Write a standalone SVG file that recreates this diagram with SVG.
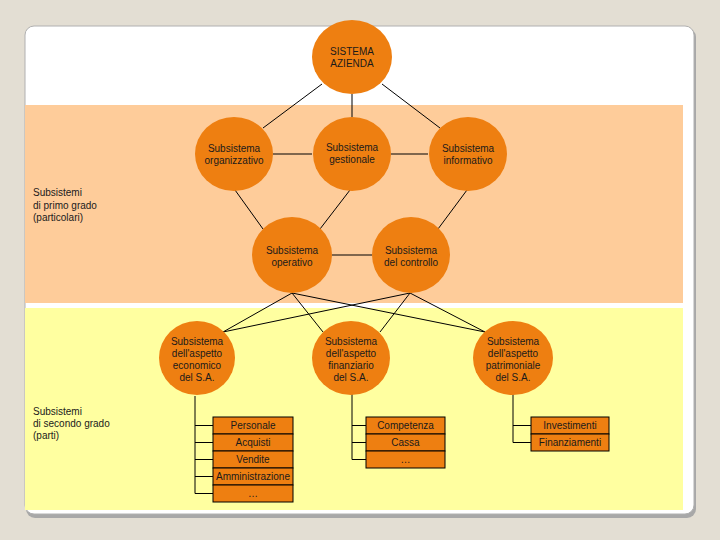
<svg xmlns="http://www.w3.org/2000/svg" width="720" height="540" viewBox="0 0 720 540">
<style>
.n{fill:#EE7F11}
.t{font-family:"Liberation Sans",Arial,sans-serif;font-size:10px;fill:#1a1a1a;text-anchor:middle}
.l{font-family:"Liberation Sans",Arial,sans-serif;font-size:10px;fill:#1a1a1a}
.c line,.c path{stroke:#000;stroke-width:1;fill:none}
.b{fill:#EE7F11;stroke:#000;stroke-width:1}
</style>
<rect width="720" height="540" fill="#E3DED3"/>
<rect x="26" y="28" width="670" height="490" rx="9" fill="#A8A8A8"/>
<rect x="25" y="26" width="669" height="488" rx="9" fill="#fff" stroke="#B0B0B0"/>
<rect x="25" y="105" width="658" height="198" fill="#FECC9A"/>
<rect x="25" y="308" width="658" height="202" fill="#FFFFA0"/>
<g class="c">
<line x1="322" y1="84" x2="263" y2="128"/>
<line x1="352" y1="94" x2="352" y2="117"/>
<line x1="382" y1="84" x2="440" y2="128"/>
<line x1="273" y1="154" x2="312" y2="154"/>
<line x1="391" y1="154" x2="428" y2="154"/>
<line x1="235" y1="190" x2="263" y2="229"/>
<line x1="350" y1="190" x2="320" y2="229"/>
<line x1="467" y1="190" x2="438" y2="229"/>
<line x1="332" y1="255" x2="372" y2="255"/>
<line x1="292" y1="293" x2="223" y2="332"/>
<line x1="292" y1="293" x2="323" y2="332"/>
<line x1="292" y1="293" x2="485" y2="332"/>
<line x1="410" y1="293" x2="223" y2="332"/>
<line x1="410" y1="293" x2="380" y2="332"/>
<line x1="410" y1="293" x2="485" y2="332"/>
<path d="M195 396V493.5M195 425.5H213M195 442.5H213M195 459.5H213M195 476.5H213M195 493.5H213"/>
<path d="M352 390V459.5M352 425.5H366M352 442.5H366M352 459.5H366"/>
<path d="M513 390V442.5M513 425.5H531M513 442.5H531"/>
</g>
<g id="sistema"><ellipse class="n" cx="352" cy="57" rx="40" ry="37"/><text class="t" x="352" y="55">SISTEMA</text><text class="t" x="352" y="67">AZIENDA</text></g>
<g id="org"><ellipse class="n" cx="234" cy="154" rx="39" ry="37"/><text class="t" x="234" y="152">Subsistema</text><text class="t" x="234" y="164">organizzativo</text></g>
<g id="gest"><ellipse class="n" cx="352" cy="154" rx="39" ry="37"/><text class="t" x="352" y="151">Subsistema</text><text class="t" x="352" y="163">gestionale</text></g>
<g id="info"><ellipse class="n" cx="468" cy="154" rx="39" ry="37"/><text class="t" x="468" y="152">Subsistema</text><text class="t" x="468" y="164">informativo</text></g>
<g id="oper"><ellipse class="n" cx="292" cy="255" rx="40" ry="38"/><text class="t" x="292" y="254">Subsistema</text><text class="t" x="292" y="266">operativo</text></g>
<g id="contr"><ellipse class="n" cx="411" cy="255" rx="39" ry="38"/><text class="t" x="411" y="254">Subsistema</text><text class="t" x="411" y="266">del controllo</text></g>
<g id="econ"><ellipse class="n" cx="197" cy="358" rx="38" ry="37"/><text class="t" x="197" y="345">Subsistema</text><text class="t" x="197" y="357">dell'aspetto</text><text class="t" x="197" y="369">economico</text><text class="t" x="197" y="381">del S.A.</text></g>
<g id="fin"><ellipse class="n" cx="351" cy="358" rx="39" ry="37"/><text class="t" x="351" y="345">Subsistema</text><text class="t" x="351" y="357">dell'aspetto</text><text class="t" x="351" y="369">finanziario</text><text class="t" x="351" y="381">del S.A.</text></g>
<g id="patr"><ellipse class="n" cx="513" cy="358" rx="40" ry="37"/><text class="t" x="513" y="345">Subsistema</text><text class="t" x="513" y="357">dell'aspetto</text><text class="t" x="513" y="369">patrimoniale</text><text class="t" x="513" y="381">del S.A.</text></g>
<g id="econ-list">
<rect class="b" x="213" y="417" width="80" height="17"/><text class="t" x="253" y="429">Personale</text>
<rect class="b" x="213" y="434" width="80" height="17"/><text class="t" x="253" y="446">Acquisti</text>
<rect class="b" x="213" y="451" width="80" height="17"/><text class="t" x="253" y="463">Vendite</text>
<rect class="b" x="213" y="468" width="80" height="17"/><text class="t" x="253" y="480">Amministrazione</text>
<rect class="b" x="213" y="485" width="80" height="17"/><text class="t" x="253" y="497">…</text>
</g>
<g id="fin-list">
<rect class="b" x="366" y="417" width="79" height="17"/><text class="t" x="405.5" y="429">Competenza</text>
<rect class="b" x="366" y="434" width="79" height="17"/><text class="t" x="405.5" y="446">Cassa</text>
<rect class="b" x="366" y="451" width="79" height="17"/><text class="t" x="405.5" y="463">…</text>
</g>
<g id="patr-list">
<rect class="b" x="531" y="417" width="78" height="17"/><text class="t" x="570" y="429">Investimenti</text>
<rect class="b" x="531" y="434" width="78" height="17"/><text class="t" x="570" y="446">Finanziamenti</text>
</g>
<g id="label1"><text class="l" x="33" y="196">Subsistemi</text><text class="l" x="33" y="209">di primo grado</text><text class="l" x="33" y="221">(particolari)</text></g>
<g id="label2"><text class="l" x="33" y="415">Subsistemi</text><text class="l" x="33" y="427">di secondo grado</text><text class="l" x="33" y="439">(parti)</text></g>
</svg>
